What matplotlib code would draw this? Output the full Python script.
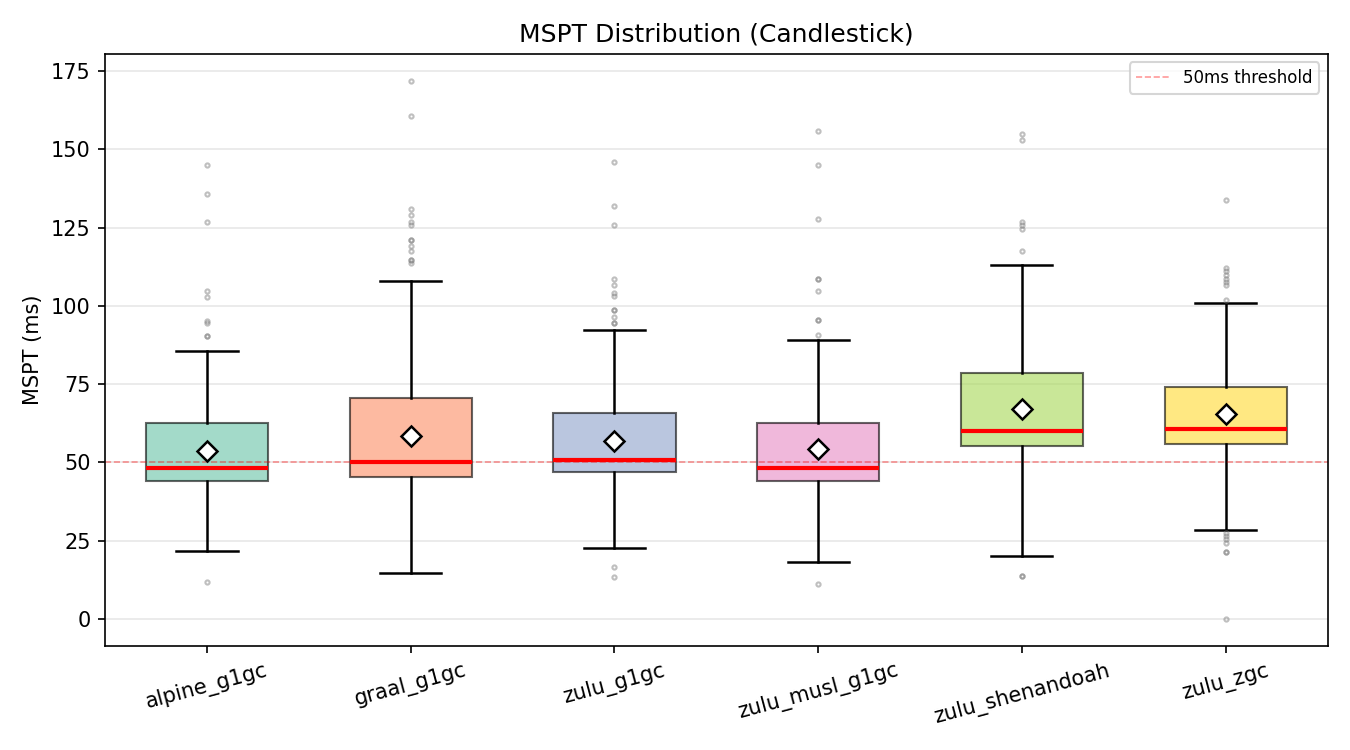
import matplotlib
matplotlib.use("Agg")
import matplotlib.pyplot as plt

# values
labels = ['alpine_g1gc', 'graal_g1gc', 'zulu_g1gc', 'zulu_musl_g1gc', 'zulu_shenandoah', 'zulu_zgc']
q1 = [44.2, 45.3, 46.8, 44.2, 55.2, 55.9]
med = [48.1, 50.1, 50.9, 48.1, 60.0, 60.8]
q3 = [62.6, 70.5, 65.9, 62.6, 78.5, 74.1]
means = [53.7, 58.5, 56.7, 54.2, 66.9, 65.5]
whislo = [21.8, 14.7, 22.5, 18.3, 20.2, 28.5]
whishi = [85.7, 107.9, 92.4, 89.0, 113.1, 100.8]
fliers = [
    [145.0, 135.9, 126.7, 104.8, 103.0, 95.2, 94.6, 90.4, 90.4, 11.7],
    [171.9, 160.7, 130.9, 128.9, 126.7, 126.0, 120.9, 120.9, 119.1, 117.7, 114.7, 114.7, 113.8],
    [146.0, 131.9, 125.7, 108.6, 106.8, 104.0, 103.1, 98.8, 98.8, 96.6, 94.5, 94.5, 16.5, 13.3],
    [156.0, 145.0, 127.9, 108.6, 108.6, 104.8, 95.4, 95.4, 90.7, 11.1],
    [155.0, 153.0, 126.7, 125.7, 124.7, 117.7, 13.8, 13.8],
    [133.7, 112.0, 111.0, 110.0, 108.5, 107.5, 106.8, 101.9, 27.4, 26.4, 25.4, 24.3, 21.4, 21.4, 0.0],
]
colors = ['#66c2a5', '#fc8d62', '#8da0cb', '#e78ac3', '#a6d854', '#ffd92f']
threshold = 50

stats = []
for i in range(len(labels)):
    stats.append({'label': labels[i], 'q1': q1[i], 'med': med[i], 'q3': q3[i],
                  'mean': means[i], 'whislo': whislo[i], 'whishi': whishi[i],
                  'fliers': fliers[i]})

fig, ax = plt.subplots(figsize=(9, 5), dpi=150)

bp = ax.bxp(stats, patch_artist=True, showmeans=True, widths=0.6,
            medianprops=dict(color='red', linewidth=2),
            meanprops=dict(marker='D', markerfacecolor='white', markeredgecolor='black',
                           markersize=7, markeredgewidth=1.2),
            flierprops=dict(marker='o', markersize=2, markerfacecolor='none',
                            markeredgecolor='gray', alpha=0.5),
            whiskerprops=dict(linewidth=1.2), capprops=dict(linewidth=1.2))

for patch, c in zip(bp['boxes'], colors):
    patch.set_facecolor(c)
    patch.set_alpha(0.6)

ax.axhline(threshold, color='red', linestyle='--', linewidth=0.8, alpha=0.4,
           label='50ms threshold')
ax.set_ylabel('MSPT (ms)')
ax.set_title('MSPT Distribution (Candlestick)')
ax.grid(True, axis='y', alpha=0.3)
ax.legend(loc='upper right', fontsize=8)
plt.setp(ax.get_xticklabels(), rotation=15)

plt.tight_layout()
plt.savefig('out.png')
